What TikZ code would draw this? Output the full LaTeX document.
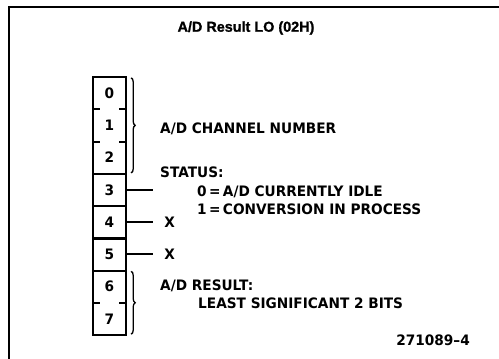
\documentclass[tikz,border=0pt]{standalone}
\usepackage{fontspec}
\usetikzlibrary{decorations.pathreplacing}
\newfontfamily\lblfont{DejaVu Sans Bold}[FakeStretch=0.95, Ligatures=TeX]
\newfontfamily\ttlfont{Liberation Sans Bold}[FakeBold=1.2]
\begin{document}
\begin{tikzpicture}[x=1pt,y=-1pt,
  lbl/.style={font=\lblfont\fontsize{14.4}{16}\selectfont, inner sep=0pt, anchor=west, text height=10.5pt, text depth=0pt},
  cell/.style={font=\lblfont\fontsize{14.4}{16}\selectfont, inner sep=0pt, minimum width=33pt, minimum height=32.25pt},
  frame/.style={line width=1.8pt},
  boxline/.style={line width=2.2pt},
  tick/.style={line width=2pt},
  br/.style={line width=1.3pt, decorate, decoration={brace, amplitude=4pt}}
]
\useasboundingbox (0,0) rectangle (499,359);
% outer frame (only top and left visible)
\draw[frame] (9,359) -- (9,7) -- (499,7);
% title
\node[font=\ttlfont\fontsize{14.4}{16}\selectfont, inner sep=0pt] (title) at (246,28) {A/D Result LO (02H)};
% register cells
\foreach \i in {0,...,7} {
  \node[cell] (c\i) at (109.5, {77+32.25*\i+16.125}) {\i};
}
% outline
\draw[boxline] (c0.north west) rectangle (c7.south east);
% solid separators
\draw[boxline] (c2.south west) -- (c2.south east);
\draw[boxline] (c3.south west) -- (c3.south east);
\draw[boxline] (c4.south west) -- (c4.south east);
\draw[boxline] (c5.south west) -- (c5.south east);
% dashed separators (stubs)
\foreach \a in {0,1,6} {
  \draw[tick] (c\a.south west) -- ++(7,0);
  \draw[tick] (c\a.south east) -- ++(-7,0);
}
% braces
\draw[br] ([xshift=5pt,yshift=-1pt]c0.north east) -- ([xshift=5pt,yshift=1pt]c2.south east);
\draw[br] ([xshift=5pt,yshift=-1pt]c6.north east) -- ([xshift=5pt,yshift=1pt]c7.south east);
% leader lines
\coordinate (e3) at ([xshift=27pt]c3.east);
\coordinate (e4) at ([xshift=27pt]c4.east);
\coordinate (e5) at ([xshift=27pt]c5.east);
\draw[tick] (c3.east) -- (e3);
\draw[tick] (c4.east) -- (e4);
\draw[tick] (c5.east) -- (e5);
% labels
\node[lbl] (chan) at (160,128) {A/D CHANNEL NUMBER};
\node[lbl] (stat) at (160,172) {STATUS:};
\node[lbl] (idle) at (197,191) {0\,=\,A/D CURRENTLY IDLE};
\node[lbl] (conv) at (197,209) {1\,=\,CONVERSION IN PROCESS};
\node[lbl] (x4) at ([xshift=11pt]e4) {X};
\node[lbl] (x5) at ([xshift=11pt]e5) {X};
\node[lbl] (res) at (160,285) {A/D RESULT:};
\node[lbl] (lsb) at (198,303) {LEAST SIGNIFICANT 2 BITS};
\node[lbl, anchor=east] (fig) at (470,340) {271089--4};
\end{tikzpicture}
\end{document}
